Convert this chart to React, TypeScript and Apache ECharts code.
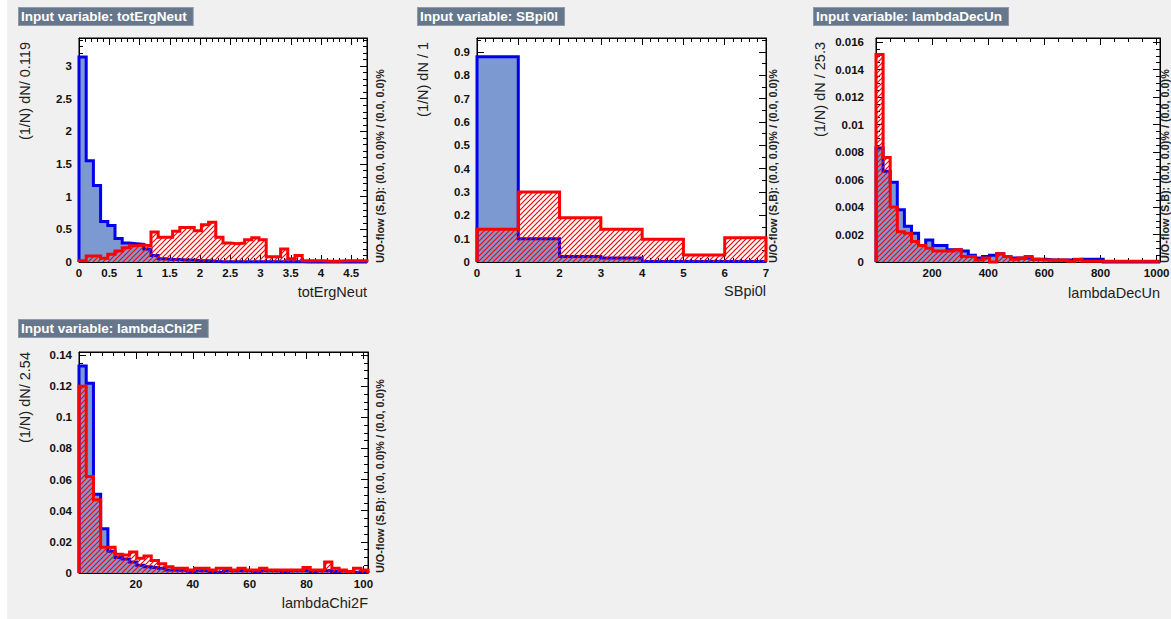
import React, { useEffect, useRef } from "react";
import * as echarts from "echarts";

// ---------------- data ----------------
// Panel 1: totErgNeut, 40 bins of 0.119 starting at 0
const totErgNeutMin = 0;
const totErgNeutBinWidth = 0.119;
const totErgNeutSignal = [
  3.14, 1.55, 1.17, 0.62, 0.56, 0.36, 0.29, 0.28, 0.27, 0.2,
  0.1, 0.05, 0.04, 0.04, 0.03, 0.03, 0.02, 0.02, 0.01, 0.005,
  0.005, 0.005, 0.005, 0.005, 0.005, 0.005, 0.003, 0.003, 0.002, 0.002,
  0.002, 0, 0, 0, 0, 0.002, 0, 0, 0, 0,
];
const totErgNeutBackground = [
  0.02, 0.09, 0.09, 0.056, 0.12, 0.17, 0.22, 0.25, 0.26, 0.25,
  0.46, 0.38, 0.38, 0.47, 0.53, 0.53, 0.48, 0.57, 0.61, 0.38,
  0.29, 0.28, 0.29, 0.34, 0.37, 0.34, 0.08, 0.08, 0.2, 0.05,
  0.1, 0.02, 0.02, 0.02, 0.01, 0.01, 0.02, 0.02, 0.02, 0.02,
];

// Panel 2: SBpi0l, 7 bins of 1 starting at 0
const sbpi0lMin = 0;
const sbpi0lBinWidth = 1;
const sbpi0lSignal = [0.88, 0.1, 0.024, 0.017, 0.002, 0.002, 0.002];
const sbpi0lBackground = [0.14, 0.3, 0.19, 0.14, 0.098, 0.03, 0.104];

// Panel 3: lambdaDecUn, 40 bins of 25.3 starting at 0
const lambdaDecUnMin = 0;
const lambdaDecUnBinWidth = 25.3;
const lambdaDecUnSignal = [
  0.0083, 0.0066, 0.0058, 0.0038, 0.0026, 0.0021, 0.0012, 0.0016, 0.0012, 0.0012,
  0.0009, 0.0009, 0.0008, 0.0005, 0.0003, 0.0004, 0.0005, 0.0006, 0.0004, 0.0003,
  0.0003, 0.0003, 0.0002, 0.0002, 0.00015, 0.00015, 0.00015, 0.00015, 0.0002, 0.0002,
  0.0002, 0.0002, 0, 0, 0, 0, 0, 0, 0, 0,
];
const lambdaDecUnBackground = [
  0.0151, 0.0076, 0.004, 0.0022, 0.0021, 0.0015, 0.0012, 0.001, 0.0008, 0.0008,
  0.0008, 0.0009, 0.0004, 0.0004, 0.00015, 0.0003, 0, 0.0006, 0.0004, 0.0002,
  0.0003, 0.0004, 0.0002, 0.00015, 0.00015, 0.00015, 0.00015, 0.00005, 0.0002, 0.00005,
  0.00005, 0.00005, 0.00005, 0.00005, 0.00005, 0.00005, 0.00005, 0.00005, 0.00005, 0.00005,
];

// Panel 4: lambdaChi2F, 40 bins of 2.54 starting at 0
const lambdaChi2FMin = 0;
const lambdaChi2FBinWidth = 2.54;
const lambdaChi2FSignal = [
  0.133, 0.122, 0.0506, 0.0285, 0.014, 0.01, 0.009, 0.007, 0.005, 0.004,
  0.0035, 0.003, 0.002, 0.0017, 0.0017, 0.0005, 0.0015, 0.0015, 0.0005, 0.0005,
  0.0015, 0.0015, 0.0015, 0.0015, 0.0005, 0.0015, 0.0015, 0.0015, 0.001, 0.0015,
  0.0015, 0.0015, 0.001, 0.0015, 0.0015, 0.001, 0.0015, 0.001, 0.0005, 0.0005,
];
const lambdaChi2FBackground = [
  0.12, 0.062, 0.047, 0.0165, 0.0165, 0.012, 0.0115, 0.0135, 0.0095, 0.011,
  0.008, 0.006, 0.004, 0.003, 0.003, 0.002, 0.003, 0.003, 0.002, 0.003,
  0.003, 0.002, 0.003, 0.002, 0.002, 0.003, 0.002, 0.002, 0.002, 0.002,
  0.002, 0.0035, 0.002, 0.002, 0.007, 0.003, 0.002, 0.001, 0.003, 0.002,
];

const variableNames = ["totErgNeut", "SBpi0l", "lambdaDecUn", "lambdaChi2F"];
const yTitles = ["(1/N) dN/ 0.119", "(1/N) dN / 1", "(1/N) dN / 25.3", "(1/N) dN/ 2.54"];
const yMaxima = [3.43, 0.96, 0.0163, 0.142];
const xIntervals = [0.5, 1, 200, 20];
const yIntervals = [0.5, 0.1, 0.002, 0.02];
const overflowText = "U/O-flow (S,B): (0.0, 0.0)% / (0.0, 0.0)%";

// ---------------- layout / style ----------------
const FONT = "Liberation Sans, Arial, Helvetica, sans-serif";
const SIG_FILL = "#7d99d1";
const SIG_LINE = "#0000ee";
const BKG_LINE = "#ff0000";

const panels = [
  { name: variableNames[0], yTitle: yTitles[0], min: totErgNeutMin, bw: totErgNeutBinWidth, sig: totErgNeutSignal, bkg: totErgNeutBackground, yMax: yMaxima[0], xInt: xIntervals[0], yInt: yIntervals[0], xMinor: 5, yMinor: 5, showXMin: true, showXMax: false, labelMargin: 7,
    grid: { left: 79, top: 38, width: 288, height: 224 }, box: [19, 8], yTitlePos: [25, 42], uoPos: [380, 263], xTitlePos: [367, 292] },
  { name: variableNames[1], yTitle: yTitles[1], min: sbpi0lMin, bw: sbpi0lBinWidth, sig: sbpi0lSignal, bkg: sbpi0lBackground, yMax: yMaxima[1], xInt: xIntervals[1], yInt: yIntervals[1], xMinor: 5, yMinor: 2, showXMin: true, showXMax: true, labelMargin: 7,
    grid: { left: 477, top: 38, width: 289, height: 224 }, box: [418, 8], yTitlePos: [423, 42], uoPos: [773, 263], xTitlePos: [766, 291] },
  { name: variableNames[2], yTitle: yTitles[2], min: lambdaDecUnMin, bw: lambdaDecUnBinWidth, sig: lambdaDecUnSignal, bkg: lambdaDecUnBackground, yMax: yMaxima[2], xInt: xIntervals[2], yInt: yIntervals[2], xMinor: 4, yMinor: 4, showXMin: false, showXMax: false, labelMargin: 12,
    grid: { left: 876, top: 38, width: 284, height: 224 }, box: [814, 8], yTitlePos: [820, 42], uoPos: [1165, 263], xTitlePos: [1160, 293] },
  { name: variableNames[3], yTitle: yTitles[3], min: lambdaChi2FMin, bw: lambdaChi2FBinWidth, sig: lambdaChi2FSignal, bkg: lambdaChi2FBackground, yMax: yMaxima[3], xInt: xIntervals[3], yInt: yIntervals[3], xMinor: 5, yMinor: 4, showXMin: false, showXMax: false, labelMargin: 7,
    grid: { left: 79, top: 352, width: 289, height: 221 }, box: [19, 320], yTitlePos: [25, 352], uoPos: [380, 573], xTitlePos: [368, 603] },
];

function stepPoints(min: number, bw: number, vals: number[]) {
  const pts: number[][] = [[min, 0]];
  vals.forEach((v, i) => pts.push([min + i * bw, v]));
  const end = min + vals.length * bw;
  pts.push([end, vals[vals.length - 1]]);
  pts.push([end, 0]);
  return pts;
}

function makeHatch(): HTMLCanvasElement {
  const s = 5;
  const c = document.createElement("canvas");
  c.width = s;
  c.height = s;
  const ctx = c.getContext("2d")!;
  ctx.strokeStyle = BKG_LINE;
  ctx.lineWidth = 1.2;
  ctx.beginPath();
  ctx.moveTo(-1, s + 1);
  ctx.lineTo(s + 1, -1);
  ctx.moveTo(-1, 1);
  ctx.lineTo(1, -1);
  ctx.moveTo(s - 1, s + 1);
  ctx.lineTo(s + 1, s - 1);
  ctx.stroke();
  return c;
}

function axisBase() {
  return {
    axisLine: { show: true, onZero: false, lineStyle: { color: "#000", width: 1 } },
    axisTick: { show: true, inside: true, length: 7, lineStyle: { color: "#000", width: 1 } },
    splitLine: { show: false },
  };
}

const plainNumber = (v: number) => String(v);

export default function App() {
  const ref = useRef<HTMLDivElement>(null);
  useEffect(() => {
    if (!ref.current) return;
    const chart = echarts.init(ref.current, undefined, { renderer: "svg" });
    const hatch = makeHatch();

    const grid: any[] = [];
    const xAxis: any[] = [];
    const yAxis: any[] = [];
    const series: any[] = [];
    const graphic: any[] = [];

    panels.forEach((p, i) => {
      const xMax = p.min + p.sig.length * p.bw;
      grid.push({
        ...p.grid,
        show: true,
        backgroundColor: "#fff",
        borderColor: "#000",
        borderWidth: 1,
        containLabel: false,
        outerBoundsMode: "none",
      });
      const labelStyle = { color: "#111", fontSize: 11.5, fontWeight: "bold", fontFamily: FONT, formatter: plainNumber };
      xAxis.push({
        type: "value", gridIndex: i, position: "bottom", min: p.min, max: xMax, interval: p.xInt,
        ...axisBase(),
        minorTick: { show: true, splitNumber: p.xMinor, length: 4, lineStyle: { color: "#000" } },
        axisLabel: { show: true, ...labelStyle, margin: 5, showMaxLabel: p.showXMax, showMinLabel: p.showXMin },
      });
      xAxis.push({
        type: "value", gridIndex: i, position: "top", min: p.min, max: xMax, interval: p.xInt,
        ...axisBase(),
        minorTick: { show: true, splitNumber: p.xMinor, length: 4, lineStyle: { color: "#000" } },
        axisLabel: { show: false },
      });
      yAxis.push({
        type: "value", gridIndex: i, position: "left", min: 0, max: p.yMax, interval: p.yInt,
        ...axisBase(),
        minorTick: { show: true, splitNumber: p.yMinor, length: 4, lineStyle: { color: "#000" } },
        axisLabel: { show: true, ...labelStyle, margin: p.labelMargin, showMaxLabel: false, showMinLabel: true },
      });
      yAxis.push({
        type: "value", gridIndex: i, position: "right", min: 0, max: p.yMax, interval: p.yInt,
        ...axisBase(),
        minorTick: { show: true, splitNumber: p.yMinor, length: 4, lineStyle: { color: "#000" } },
        axisLabel: { show: false },
      });

      series.push({
        type: "line", name: p.name + " signal", xAxisIndex: 2 * i, yAxisIndex: 2 * i,
        data: stepPoints(p.min, p.bw, p.sig), step: "end", symbol: "none", clip: false, silent: true,
        lineStyle: { color: SIG_LINE, width: 3, join: "miter" },
        areaStyle: { color: SIG_FILL, opacity: 1 },
        z: 3,
      });
      series.push({
        type: "line", name: p.name + " background", xAxisIndex: 2 * i, yAxisIndex: 2 * i,
        data: stepPoints(p.min, p.bw, p.bkg), step: "end", symbol: "none", clip: false, silent: true,
        lineStyle: { color: BKG_LINE, width: 3, join: "miter" },
        areaStyle: { color: { image: hatch, repeat: "repeat" }, opacity: 1 },
        z: 4,
      });

      graphic.push({
        type: "text", x: p.box[0], y: p.box[1], silent: true, z: 10,
        style: {
          text: "Input variable: " + p.name,
          fill: "#fff", fontSize: 13.5, fontWeight: "bold", fontFamily: FONT,
          align: "left", verticalAlign: "top", lineHeight: 15,
          backgroundColor: "#67778b", borderColor: "#8e9aa8", borderWidth: 1,
          padding: [1, 6, 1, 2],
        },
      });
      graphic.push({
        type: "text", x: p.yTitlePos[0], y: p.yTitlePos[1], rotation: Math.PI / 2, silent: true, z: 10,
        style: { text: p.yTitle, fill: "#222", fontSize: 14.5, fontFamily: FONT, align: "right", verticalAlign: "middle" },
      });
      graphic.push({
        type: "text", x: p.xTitlePos[0], y: p.xTitlePos[1], silent: true, z: 10,
        style: { text: p.name, fill: "#222", fontSize: 14.5, fontFamily: FONT, align: "right", verticalAlign: "middle" },
      });
      graphic.push({
        type: "text", x: p.uoPos[0], y: p.uoPos[1], rotation: Math.PI / 2, silent: true, z: 10,
        style: { text: overflowText, fill: "#222", fontSize: 10.8, fontWeight: "bold", fontFamily: FONT, align: "left", verticalAlign: "middle" },
      });
    });

    chart.setOption({
      animation: false,
      backgroundColor: "transparent",
      grid,
      xAxis,
      yAxis,
      series,
      graphic,
    });
    return () => chart.dispose();
  }, []);

  return (
    <div
      style={{
        position: "absolute",
        left: 0,
        top: 0,
        width: 1171,
        height: 619,
        background: "linear-gradient(to right, #ffffff 7px, #f0f0f0 7px)",
      }}
    >
      <div ref={ref} style={{ width: 1171, height: 619 }} />
    </div>
  );
}
